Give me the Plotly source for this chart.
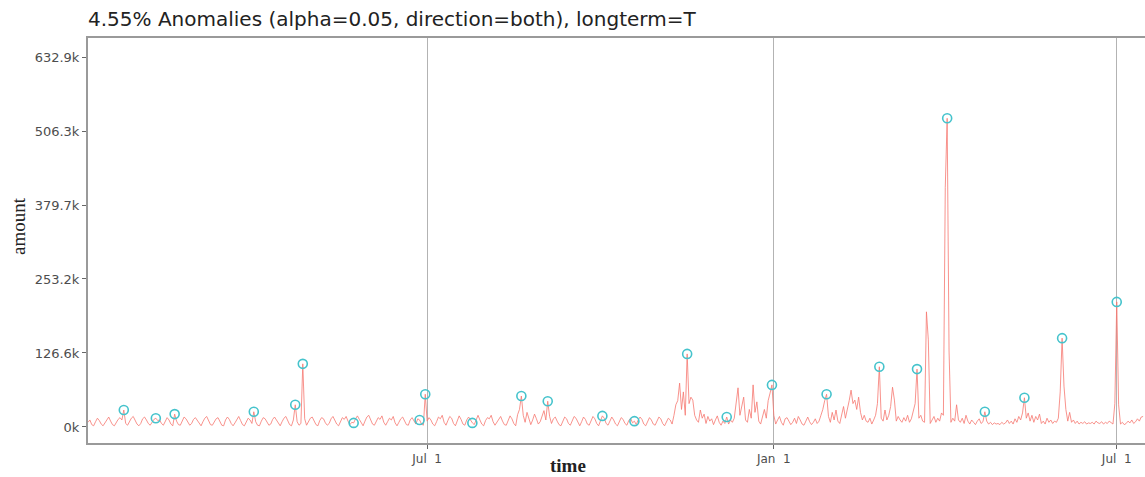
import datetime as dt
import plotly.graph_objects as go

# ---- data (values in thousands) ----
start_date = "2015-01-02"
amount_k = [
    8, 12, 4, 2, 9, 15, 11,
    5, 2, 7, 14, 17, 10, 4,
    2, 8, 13, 16, 12, 29, 6,
    3, 9, 15, 18, 11, 5, 2,
    6, 14, 17, 12, 6, 3, 8,
    13, 15, 11, 12, 6, 3, 10,
    16, 12, 5, 2, 22, 10, 4,
    3, 11, 17, 14, 8, 3, 6,
    13, 16, 11, 5, 2, 9, 15,
    18, 12, 4, 3, 10, 14, 16,
    9, 3, 2, 12, 17, 13, 6,
    2, 7, 14, 18, 11, 4, 2,
    8, 15, 12, 6, 26, 9, 3,
    2, 10, 16, 14, 7, 3, 5,
    13, 17, 12, 5, 2, 9, 15,
    18, 11, 4, 2, 12, 38, 9,
    3, 6, 108, 14, 3, 8, 15,
    17, 10, 4, 2, 11, 16, 14,
    7, 3, 6, 14, 18, 12, 5,
    2, 9, 16, 13, 18, 10, 4,
    8, 7, 14, 19, 13, 6, 2,
    10, 17, 20, 12, 5, 3, 11,
    16, 13, 19, 8, 3, 9, 15,
    12, 18, 7, 2, 8, 14, 17,
    11, 4, 3, 12, 16, 10, 5,
    14, 12, 5, 3, 56, 10, 16,
    12, 5, 2, 9, 17, 14, 20,
    8, 3, 11, 18, 15, 6, 2,
    10, 19, 13, 5, 3, 12, 17,
    11, 7, 4, 14, 20, 12, 5,
    2, 11, 16, 14, 20, 9, 3,
    8, 15, 18, 10, 4, 3, 12,
    19, 14, 6, 2, 21, 30, 53,
    20, 8, 25, 15, 4, 12, 22,
    14, 5, 9, 20, 28, 12, 44,
    18, 6, 14, 17, 10, 4, 2,
    11, 17, 14, 6, 3, 10, 18,
    15, 7, 2, 9, 17, 13, 5,
    3, 12, 18, 14, 6, 2, 9,
    19, 15, 6, 3, 11, 17, 12,
    5, 2, 10, 16, 13, 6, 3,
    11, 15, 7, 10, 4, 12, 17,
    13, 5, 2, 9, 16, 12, 5,
    3, 10, 17, 14, 6, 2, 8,
    15, 12, 5, 20, 38, 45, 75,
    30, 60, 20, 125, 40, 51, 46,
    20, 12, 8, 29, 15, 22, 6,
    18, 10, 14, 4, 12, 19, 8,
    3, 10, 6, 17, 5, 12, 8,
    15, 40, 67, 20, 35, 51, 12,
    8, 30, 15, 72, 25, 43, 10,
    5, 20, 30, 15, 45, 58, 72,
    20, 5, 12, 18, 8, 3, 14,
    16, 10, 4, 8, 15, 6, 18,
    12, 5, 3, 11, 17, 9, 4,
    8, 14, 6, 10, 20, 30, 45,
    56, 18, 8, 25, 12, 29, 10,
    6, 22, 35, 15, 28, 45, 63,
    40, 46, 30, 51, 25, 12, 20,
    10, 8, 15, 5, 12, 20, 40,
    103, 15, 10, 29, 12, 20, 35,
    68, 46, 10, 18, 12, 8, 16,
    10, 20, 8, 14, 25, 40, 99,
    15, 20, 10, 8, 197, 149, 6,
    12, 18, 8, 15, 10, 24, 20,
    410, 528, 130, 8, 15, 10, 38,
    12, 8, 15, 6, 20, 10, 5,
    12, 8, 4, 10, 14, 6, 9,
    26, 10, 5, 8, 4, 7, 5,
    6, 4, 8, 5, 7, 12, 6,
    10, 5, 14, 8, 18, 12, 24,
    50, 15, 24, 10, 20, 8, 18,
    12, 22, 6, 10, 5, 15, 8,
    12, 6, 10, 8, 15, 60, 152,
    70, 30, 10, 25, 8, 12, 6,
    10, 5, 8, 6, 9, 5, 7,
    6, 8, 5, 10, 7, 6, 9,
    5, 8, 6, 10, 7, 5, 40,
    214, 38, 5, 8, 4, 6, 10,
    7, 12, 6, 9, 14, 10, 17,
    18,
]
anomaly_day_index = [19, 36, 46, 88, 110, 114, 141, 176, 179, 204, 230, 244, 273,
                     290, 318, 339, 363, 392, 420, 440, 456, 476, 497, 517, 546]

y_tick_vals = [0, 126.6, 253.2, 379.7, 506.3, 632.9]
y_tick_text = ["0k", "126.6k", "253.2k", "379.7k", "506.3k", "632.9k"]
x_tick_vals = ["2015-07-01", "2016-01-01", "2016-07-01"]
x_tick_text = ["Jul\u00a0\u00a01", "Jan\u00a0\u00a01", "Jul\u00a0\u00a01"]
title_text = "4.55% Anomalies (alpha=0.05, direction=both), longterm=T"
x_title = "time"
y_title = "amount"

# ---- build ----
d0 = dt.date.fromisoformat(start_date)
dates = [d0 + dt.timedelta(days=i) for i in range(len(amount_k))]
an_dates = [dates[i] for i in anomaly_day_index]
an_vals = [amount_k[i] for i in anomaly_day_index]

W, H = 1145, 477
L, R, T, B = 88, 0, 38, 34
PW, PH = W - L - R, H - T - B

fig = go.Figure()
fig.add_trace(go.Scatter(x=dates, y=amount_k, mode="lines",
                         line=dict(color="rgba(246,120,112,0.8)", width=1),
                         hoverinfo="skip", showlegend=False))
fig.add_trace(go.Scatter(x=an_dates, y=an_vals, mode="markers",
                         marker=dict(symbol="circle-open", size=9,
                                     color="#45c3cc", line=dict(width=1.6, color="#45c3cc")),
                         showlegend=False))

fig.update_layout(
    width=W, height=H,
    margin=dict(l=L, r=R, t=T, b=B),
    paper_bgcolor="white", plot_bgcolor="white",
    title=dict(text=title_text, x=L / W, xanchor="left", xref="container",
               y=1 - 19 / H, yanchor="middle", yref="container",
               font=dict(family="DejaVu Sans, Arial", size=20, color="#222")),
    font=dict(family="DejaVu Sans, Arial", color="#4d4d4d"),
    xaxis=dict(range=["2015-01-02", "2016-07-16"], tickvals=x_tick_vals, ticktext=x_tick_text,
               showgrid=True, gridcolor="#b3b3b3", gridwidth=1.2,
               showline=True, linecolor="#9a9a9a", linewidth=2, mirror=True,
               ticks="outside", ticklen=4, tickcolor="#666",
               tickfont=dict(size=12, color="#4d4d4d"), zeroline=False),
    yaxis=dict(range=[-27.4, 665.4], tickvals=y_tick_vals, ticktext=y_tick_text,
               showgrid=False, showline=True, linecolor="#9a9a9a", linewidth=2, mirror=False,
               ticks="outside", ticklen=4, tickcolor="#666",
               tickfont=dict(size=13, color="#4d4d4d"), zeroline=False),
    annotations=[
        dict(text=y_title, x=(18 - L) / PW, y=(H - B - 226) / PH, xref="paper", yref="paper",
             showarrow=False, textangle=-90, xanchor="center", yanchor="middle",
             font=dict(family="Liberation Serif, Times New Roman", size=19, color="#222")),
        dict(text="<b>" + x_title + "</b>", x=(568 - L) / PW, y=(H - B - 465) / PH,
             xref="paper", yref="paper",
             showarrow=False, xanchor="center", yanchor="middle",
             font=dict(family="Liberation Serif, Times New Roman", size=19, color="#222")),
    ],
)

fig.write_html("out.html", config={"displayModeBar": False},
               post_script="document.body.style.margin='0';")
